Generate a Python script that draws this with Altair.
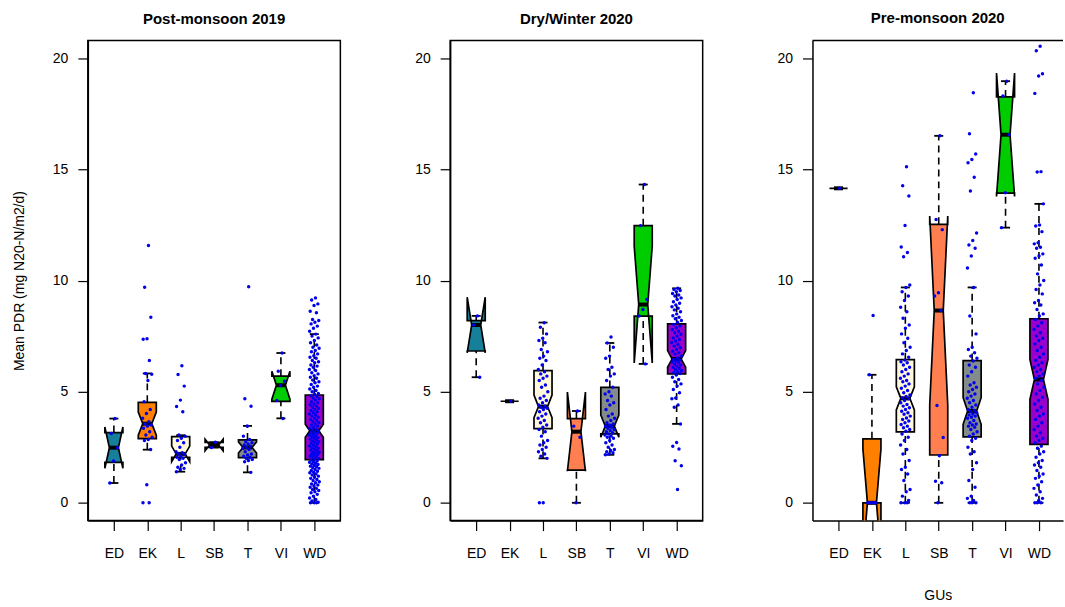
import altair as alt
import pandas as pd

CATS = ["ED", "EK", "L", "SB", "T", "VI", "WD"]
PANEL_TITLES = ["Post-monsoon 2019", "Dry/Winter 2020", "Pre-monsoon 2020"]
BOX_COLORS = ["#16809A", "#FF7F00", "#FFF8DC", "#FF7F50", "#838B8B", "#00CD00", "#9900CC"]
Y_TICKS = [0, 5, 10, 15, 20]
Y_TITLE = "Mean PDR (mg N20-N/m2/d)"
X_TITLE = "GUs"

# box statistics (order follows CATS)
P1_LO = [0.89, 2.39, 1.40, 2.49, 1.37, 3.80, 0.00]
P1_Q1 = [1.82, 2.89, 2.05, 2.49, 2.03, 4.56, 1.94]
P1_MED = [2.48, 3.56, 2.20, 2.60, 2.49, 5.29, 3.24]
P1_Q3 = [3.16, 4.52, 2.98, 2.72, 2.83, 5.70, 4.85]
P1_HI = [3.79, 5.82, 3.04, 2.72, 3.46, 6.74, 7.59]
P1_NLO = [1.55, 3.04, 1.85, 2.34, 2.24, 4.66, 2.95]
P1_NHI = [3.41, 4.08, 2.55, 2.86, 2.74, 5.92, 3.53]

P2_LO = [5.65, 4.57, 2.00, 0.00, 2.16, 6.25, 3.55]
P2_Q1 = [6.83, 4.57, 3.34, 1.47, 3.10, 8.40, 5.80]
P2_MED = [8.00, 4.57, 4.33, 3.20, 3.45, 8.92, 6.47]
P2_Q3 = [8.20, 4.57, 5.95, 3.79, 5.19, 12.47, 8.05]
P2_HI = [8.41, 4.57, 8.11, 4.13, 7.19, 14.32, 9.65]
P2_NLO = [6.75, 4.57, 3.83, 1.42, 2.95, 6.29, 6.10]
P2_NHI = [9.25, 4.57, 4.85, 4.98, 3.95, 11.55, 6.85]

P3_LO = [14.15, 0.00, 0.00, 0.00, 0.00, 12.38, 0.00]
P3_Q1 = [14.15, 0.00, 3.19, 2.15, 2.97, 13.93, 2.63]
P3_MED = [14.15, 0.00, 4.70, 8.65, 4.13, 16.56, 5.55]
P3_Q3 = [14.15, 2.88, 6.44, 12.53, 6.40, 18.26, 8.28]
P3_HI = [14.15, 5.76, 9.69, 16.51, 9.69, 18.97, 13.45]
P3_NLO = [14.15, -2.42, 4.18, 4.40, 3.53, 13.78, 4.65]
P3_NHI = [14.15, 2.42, 5.22, 12.90, 4.73, 19.34, 6.45]

P1_ED = [3.79, 3.12, 2.48, 1.88, 0.89]
P1_EK = [11.58, 9.70, 8.35, 7.38, 7.36, 6.40, 5.82, 5.78, 5.50, 4.55, 4.20, 4.02, 3.80, 3.65,
         3.55, 3.50, 3.45, 3.35, 3.20, 3.05, 2.95, 2.85, 2.80, 2.40, 0.81, 0.00, 0.00]
P1_L = [6.17, 5.77, 5.25, 4.62, 4.33, 4.10, 3.05, 3.00, 2.90, 2.80, 2.70, 2.50, 2.30, 2.25, 2.20,
        2.18, 2.10, 2.05, 2.00, 1.95, 1.80, 1.70, 1.60, 1.55, 1.50, 1.40]
P1_SB = [2.72, 2.49]
P1_T = [9.72, 4.68, 4.34, 3.46, 3.00, 2.85, 2.75, 2.70, 2.65, 2.60, 2.55, 2.50, 2.45, 2.40, 2.30,
        2.20, 2.15, 2.10, 2.05, 2.00, 1.95, 1.90, 1.85, 1.37]
P1_VI = [6.74, 5.92, 5.47, 5.28, 4.60, 3.79]
P1_WD = [9.22, 9.12, 8.95, 8.88, 8.62, 8.55, 8.25, 8.20, 8.12, 8.05, 7.95, 7.85, 7.72,
         7.59, 7.50, 7.42, 7.30, 7.20, 7.10, 7.00, 6.95, 6.85, 6.80, 6.70, 6.62, 6.55, 6.50, 6.40,
         6.35, 6.30, 6.20, 6.15, 6.10, 6.00, 5.95, 5.85, 5.80, 5.72, 5.65, 5.60, 5.52, 5.45, 5.40,
         5.32, 5.25, 5.20, 5.12, 5.05, 5.00, 4.92, 4.88,
         4.82, 4.78, 4.72, 4.68, 4.62, 4.55, 4.50, 4.45, 4.40, 4.35, 4.30, 4.25, 4.20, 4.15, 4.10,
         4.05, 4.00, 3.95, 3.90, 3.85, 3.80, 3.75, 3.70, 3.65, 3.60, 3.55, 3.50, 3.45, 3.40, 3.35,
         3.30, 3.27,
         3.22, 3.18, 3.15, 3.12, 3.08, 3.05, 3.00, 2.97, 2.93, 2.90, 2.86, 2.82, 2.78, 2.75, 2.72,
         2.68, 2.65, 2.60, 2.56, 2.52, 2.48, 2.45, 2.42, 2.38, 2.35, 2.30, 2.27, 2.24, 2.20, 2.17,
         2.14, 2.10, 2.07, 2.04, 2.00, 1.97,
         1.92, 1.88, 1.85, 1.82, 1.78, 1.75, 1.72, 1.68, 1.65, 1.62, 1.58, 1.55, 1.50, 1.45, 1.42,
         1.38, 1.35, 1.30, 1.25, 1.20, 1.15, 1.10, 1.05, 1.00, 0.95, 0.90, 0.85, 0.80, 0.75, 0.70,
         0.65, 0.60, 0.55, 0.50, 0.45, 0.38, 0.30, 0.22, 0.15, 0.08, 0.03, 0.00, 0.00, 0.00]

P2_ED = [8.41, 8.00, 5.65]
P2_EK = [4.57]
P2_L = [8.10, 7.90, 7.60, 7.40, 7.30, 7.20, 6.90, 6.80, 6.60, 6.50, 6.40, 6.20, 6.00, 5.90, 5.80,
        5.70, 5.60, 5.50, 5.30, 5.20, 5.00, 4.80, 4.70, 4.60, 4.50, 4.40, 4.35, 4.30, 4.25, 4.20,
        4.10, 4.00, 3.90, 3.80, 3.70, 3.60, 3.50, 3.40, 3.30, 3.20, 3.00, 2.80, 2.70, 2.60, 2.50,
        2.40, 2.30, 2.20, 2.10, 2.00, 0.00, 0.00]
P2_SB = [4.13, 3.45, 2.95, 0.00]
P2_T = [7.46, 7.19, 7.00, 6.60, 6.50, 6.10, 6.00, 5.80, 5.70, 5.50, 5.20, 5.00, 4.90, 4.80, 4.60,
        4.50, 4.40, 4.20, 4.00, 3.90, 3.80, 3.70, 3.60, 3.55, 3.50, 3.45, 3.40, 3.35, 3.30, 3.25,
        3.20, 3.15, 3.10, 3.05, 3.00, 2.95, 2.90, 2.80, 2.70, 2.60, 2.50, 2.40, 2.35, 2.30, 2.25,
        2.20, 2.16]
P2_VI = [14.32, 12.47, 9.15, 8.70, 8.40, 6.25]
P2_WD = [9.65, 9.60, 9.55, 9.50, 9.42, 9.35, 9.30, 9.22, 9.15, 9.05, 8.98, 8.90, 8.82, 8.75, 8.68,
         8.60, 8.50, 8.42, 8.35, 8.28, 8.20, 8.12,
         8.02, 7.95, 7.88, 7.80, 7.72, 7.65, 7.58, 7.50, 7.42, 7.35, 7.28, 7.20, 7.12, 7.05, 6.98,
         6.90, 6.82, 6.75, 6.68, 6.60, 6.52,
         6.45, 6.42, 6.38, 6.33, 6.30, 6.25, 6.20, 6.15, 6.10, 6.05, 6.00, 5.95, 5.90, 5.86, 5.82,
         5.75, 5.65, 5.55, 5.45, 5.35, 5.25, 5.10, 4.95, 4.72, 4.68, 4.40, 4.30, 3.55,
         2.71, 2.54, 2.42, 1.89, 1.67, 0.60]

P3_ED = [14.15]
P3_EK = [8.43, 5.76, 0.00, 0.00, 0.00, 0.00, 0.00]
P3_L = [15.12, 14.26, 13.80, 12.48, 11.51, 11.26, 11.07, 9.80,
        9.69, 9.50, 9.30, 9.10, 8.80, 8.60, 8.30, 8.00, 7.85, 7.60, 7.40, 7.20, 7.00, 6.85, 6.70,
        6.55, 6.42, 6.35, 6.30, 6.20, 6.10, 6.00, 5.90, 5.80, 5.70, 5.60, 5.50, 5.45, 5.35, 5.25,
        5.15, 5.05, 4.95, 4.85, 4.78, 4.72, 4.68, 4.60, 4.50, 4.42, 4.35, 4.28, 4.20, 4.12, 4.05,
        3.98, 3.90, 3.82, 3.75, 3.68, 3.60, 3.52, 3.45, 3.38, 3.30, 3.22, 3.10, 2.95, 2.80, 2.60,
        2.40, 2.20, 1.90, 1.60, 1.50, 1.30, 1.00, 0.60, 0.50, 0.30, 0.10, 0.00, 0.00, 0.00]
P3_SB = [16.51, 12.75, 12.29, 9.45, 9.30, 8.65, 4.38, 2.94, 2.12, 0.97, 0.90, 0.00]
P3_T = [18.45, 16.60, 15.69, 15.45, 15.30, 14.65, 14.03, 12.14, 11.80, 11.60, 11.45, 11.10, 10.56,
        9.69, 8.40, 7.60, 7.00, 6.90, 6.75, 6.60, 6.50, 6.38, 6.20, 6.10, 5.90, 5.70, 5.40, 5.30,
        5.20, 5.10, 5.00, 4.90, 4.80, 4.70, 4.60, 4.50, 4.40, 4.30, 4.20, 4.15, 4.10, 4.05, 4.00,
        3.95, 3.90, 3.85, 3.80, 3.70, 3.60, 3.55, 3.50, 3.45, 3.40, 3.30, 3.20, 3.10, 3.00, 2.90,
        2.80, 2.50, 2.30, 2.20, 1.80, 1.50, 1.00, 0.70, 0.30, 0.20, 0.10, 0.00, 0.00, 0.00]
P3_VI = [18.97, 18.30, 16.56, 13.95, 12.38]
P3_WD = [20.54, 20.34, 19.30, 19.20, 18.42, 14.90, 14.88,
         13.45, 12.50, 12.45, 12.20, 11.70, 11.65, 11.50, 11.45, 11.20, 11.10, 11.00, 10.70, 10.30,
         10.00, 9.80, 9.60, 9.40, 9.10, 9.00, 8.90, 8.70, 8.50, 8.40,
         8.25, 8.10, 7.95, 7.80, 7.65, 7.50, 7.40, 7.30, 7.15, 7.00, 6.85, 6.70, 6.55, 6.40, 6.30,
         6.20, 6.10, 6.00, 5.90, 5.80, 5.70, 5.60,
         5.50, 5.35, 5.20, 5.05, 4.90, 4.75, 4.60, 4.45, 4.30, 4.15, 4.00, 3.90, 3.75, 3.60, 3.45,
         3.30, 3.15, 3.00, 2.90, 2.80, 2.70,
         2.55, 2.45, 2.30, 2.20, 2.05, 1.90, 1.80, 1.70, 1.60, 1.45, 1.30, 1.20, 1.10, 0.95, 0.80,
         0.65, 0.50, 0.35, 0.20, 0.10, 0.00, 0.00, 0.00]

STATS = [
    (P1_LO, P1_Q1, P1_MED, P1_Q3, P1_HI, P1_NLO, P1_NHI),
    (P2_LO, P2_Q1, P2_MED, P2_Q3, P2_HI, P2_NLO, P2_NHI),
    (P3_LO, P3_Q1, P3_MED, P3_Q3, P3_HI, P3_NLO, P3_NHI),
]
POINTS = [
    [P1_ED, P1_EK, P1_L, P1_SB, P1_T, P1_VI, P1_WD],
    [P2_ED, P2_EK, P2_L, P2_SB, P2_T, P2_VI, P2_WD],
    [P3_ED, P3_EK, P3_L, P3_SB, P3_T, P3_VI, P3_WD],
]

# ---- geometry / style constants ----
FONT = "Liberation Sans"
HALF = 0.27      # half box width (x units)
WAIST = 0.5      # notch inset fraction
CAP = 0.135      # staple half width
JIT = 0.30       # jitter spread
XMIN, XMAX = 0.22, 7.78
YMIN, YMAX = -0.8, 20.8
PANEL_W = 253
PANEL3_W = 251
PANEL_H = 481
VERTS = [(-1, "q1"), (1, "q1"), (1, "nlo"), (WAIST, "med"), (1, "nhi"), (1, "q3"),
         (-1, "q3"), (-1, "nhi"), (-WAIST, "med"), (-1, "nlo")]
LABEL_EXPR = "[" + ",".join("'%s'" % c for c in CATS) + "][datum.value - 1]"


def build(pi):
    lo, q1, med, q3, hi, nlo, nhi = STATS[pi]
    poly, box, pts = [], [], []
    for i, cat in enumerate(CATS):
        c = i + 1
        s = dict(lo=lo[i], q1=q1[i], med=med[i], q3=q3[i], hi=hi[i], nlo=nlo[i], nhi=nhi[i])
        for k, (f, key) in enumerate(VERTS):
            poly.append(dict(box=cat, k=k, x=c + f * HALF, y=s[key], col=BOX_COLORS[i]))
        box.append(dict(box=cat, c=c, cl=c - CAP, cr=c + CAP, **s))
        for j, v in enumerate(POINTS[pi][i]):
            pts.append(dict(box=cat, x=c + (((j + 1) * 0.6180339887) % 1 - 0.5) * JIT, y=v))
    return pd.DataFrame(poly), pd.DataFrame(box), pd.DataFrame(pts)


def make_panel(pi, width):
    poly, box, pts = build(pi)
    xmax = XMIN + (XMAX - XMIN) * width / PANEL_W
    xscale = alt.Scale(domain=[XMIN, xmax], nice=False, zero=False)
    yscale = alt.Scale(domain=[YMIN, YMAX], nice=False, zero=False)
    xaxis = alt.Axis(values=list(range(1, len(CATS) + 1)), labelExpr=LABEL_EXPR,
                     title=X_TITLE if pi == 2 else None)
    yaxis = alt.Axis(values=Y_TICKS, title=Y_TITLE if pi == 0 else None)

    def X(f):
        return alt.X(f, type="quantitative", scale=xscale, axis=xaxis)

    def Y(f):
        return alt.Y(f, type="quantitative", scale=yscale, axis=yaxis)

    polygon = alt.Chart(poly).mark_line(
        interpolate="linear-closed", stroke="black", strokeWidth=1.7, clip=True, strokeJoin="miter"
    ).encode(x=X("x"), y=Y("y"), order=alt.Order("k:Q"), detail="box:N",
             fill=alt.Fill("col:N", scale=None))
    wh_hi = alt.Chart(box).mark_rule(stroke="black", strokeWidth=1.6, strokeDash=[7, 5]).encode(
        x=X("c"), y=Y("q3"), y2="hi")
    wh_lo = alt.Chart(box).mark_rule(stroke="black", strokeWidth=1.6, strokeDash=[7, 5]).encode(
        x=X("c"), y=Y("lo"), y2="q1")
    cap_hi = alt.Chart(box).mark_rule(stroke="black", strokeWidth=1.8).encode(
        x=X("cl"), x2="cr", y=Y("hi"))
    cap_lo = alt.Chart(box).mark_rule(stroke="black", strokeWidth=1.8).encode(
        x=X("cl"), x2="cr", y=Y("lo"))
    median = alt.Chart(box).mark_rule(stroke="black", strokeWidth=4, strokeCap="butt").encode(
        x=X("cl"), x2="cr", y=Y("med"))
    points = alt.Chart(pts).mark_circle(size=12, color="#0000EE", opacity=1).encode(
        x=X("x"), y=Y("y"))
    layers = [polygon, wh_hi, wh_lo, cap_hi, cap_lo, median, points]
    if pi == 2:
        top = alt.Chart(pd.DataFrame({"t": [YMAX]})).mark_rule(
            stroke="black", strokeWidth=1.5).encode(y=Y("t"))
        layers.append(top)
    ch = alt.layer(*layers).properties(
        width=width, height=PANEL_H,
        title=alt.TitleParams(PANEL_TITLES[pi], fontSize=15, fontWeight="bold", font=FONT,
                              anchor="middle", baseline="alphabetic", offset=2, color="black"),
    )
    if pi == 2:
        ch = ch.properties(view=alt.ViewBackground(stroke="transparent"))
    return ch


chart = alt.hconcat(
    make_panel(0, PANEL_W), make_panel(1, PANEL_W), make_panel(2, PANEL3_W),
    spacing=110, bounds="flush",
).properties(
    padding={"left": 11, "top": 9, "right": 0, "bottom": 0},
    background="white",
).configure_view(
    stroke="black", strokeWidth=1.5
).configure_axis(
    grid=False, domain=True, domainColor="black", domainWidth=1.5,
    ticks=True, tickColor="black", tickWidth=1.2, tickSize=10,
    labelFont=FONT, labelFontSize=14, labelColor="black",
    titleFont=FONT, titleFontSize=14, titleFontWeight="normal", titleColor="black",
).configure_axisX(
    labelPadding=16, titlePadding=28
).configure_axisY(
    labelPadding=10, titlePadding=26
)

chart.save("out.html", embed_options={"renderer": "svg", "actions": False})
